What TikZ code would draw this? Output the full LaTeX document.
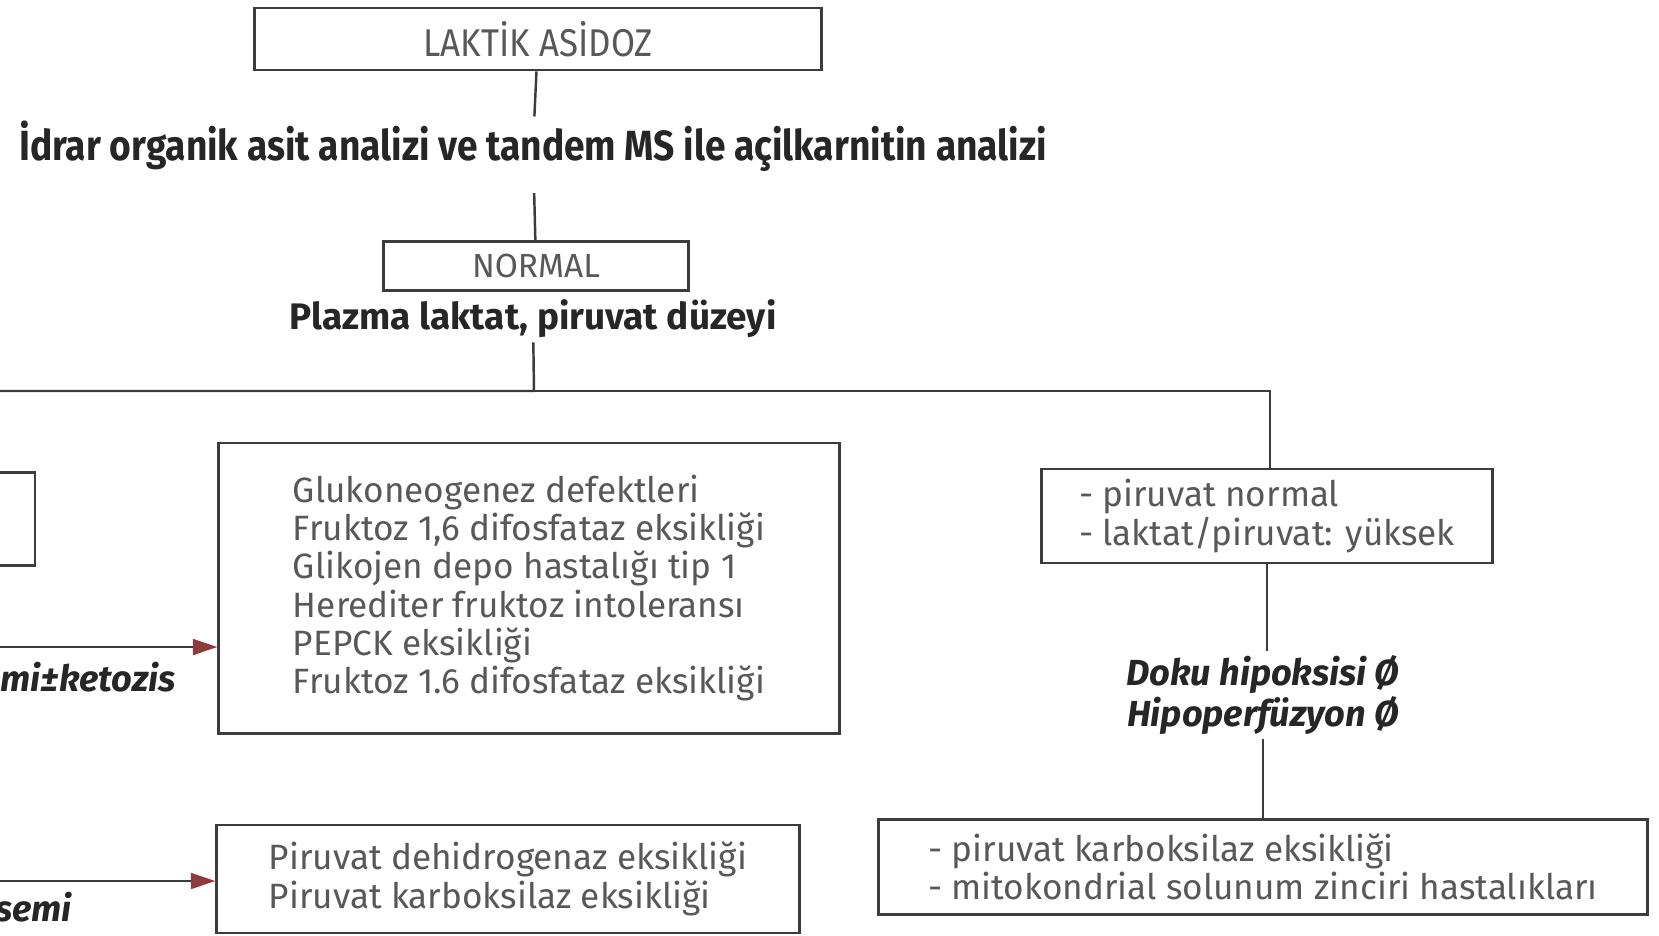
\documentclass[tikz,border=0pt]{standalone}
\usepackage{fontspec}
\setmainfont{Fira Sans}
\newfontfamily\narrowfont[FakeStretch=0.88]{Fira Sans}
\newfontfamily\titlefont[FakeStretch=0.9]{Fira Sans}
\usetikzlibrary{arrows.meta}
\definecolor{linegray}{HTML}{3C3C3C}
\definecolor{textgray}{HTML}{585858}
\definecolor{tipred}{HTML}{8E3B3F}

\begin{document}
\begin{tikzpicture}[x=0.01cm, y=-0.01cm,
    Box/.style={draw=linegray, line width=0.8pt, rectangle, inner sep=0, text=textgray,
                font=\fontsize{10}{10.9}\selectfont, align=left},
    step_text/.style={text=black!85, font=\bfseries\fontsize{10.5}{12}\selectfont, inner sep=1pt},
    note_text/.style={text=black!85, font=\bfseries\itshape\fontsize{10.3}{11.7}\selectfont,
                      align=center, inner sep=1pt},
    line/.style={draw=linegray, line width=0.7pt},
    arrow/.style={line, -{Triangle[length=7pt, width=4.5pt, color=tipred]}}
    ]
    \useasboundingbox (0,0) rectangle (1659,935);

    % main trunk
    \node[Box, minimum width=5.66cm, minimum height=0.62cm,
          font=\titlefont\fontsize{11}{12}\selectfont] (Bc0) at (538,39) {LAKTİK ASİDOZ};
    \node[step_text, font=\narrowfont\bfseries\fontsize{12}{13}\selectfont] (St0) at (533,146)
        {İdrar organik asit analizi ve tandem MS ile açilkarnitin analizi};
    \node[Box, minimum width=3.05cm, minimum height=0.49cm,
          font=\fontsize{9.5}{11}\selectfont] (Bc1) at (536,266) {NORMAL};
    \node[step_text] (St1) at (533,319) {Plazma laktat, piruvat düzeyi};

    \coordinate (J0) at (534,391);
    \coordinate (J1) at (1270,391);
    \coordinate (Jl) at (-20,391);

    % branches
    \node[Box, minimum width=1.5cm, minimum height=0.93cm] (Bc2) at (-40,519) {};
    \node[Box, minimum width=6.2cm, minimum height=2.9cm] (Bc3) at (529,588)
        {Glukoneogenez defektleri\\
         Fruktoz 1,6 difosfataz eksikliği\\
         Glikojen depo hastalığı tip 1\\
         Herediter fruktoz intoleransı\\
         PEPCK eksikliği\\
         Fruktoz 1.6 difosfataz eksikliği};
    \node[Box, minimum width=5.82cm, minimum height=1.08cm] (Bc6) at (508,879)
        {Piruvat dehidrogenaz eksikliği\\
         Piruvat karboksilaz eksikliği};
    \node[Box, minimum width=4.51cm, minimum height=0.94cm] (Bc4) at (1267,516)
        {- piruvat normal\\
         - laktat/piruvat: yüksek};
    \node[note_text] (Nt0) at (1263,695) {Doku hipoksisi Ø\\Hipoperfüzyon Ø};
    \node[Box, minimum width=7.68cm, minimum height=0.95cm] (Bc5) at (1263,867)
        {- piruvat karboksilaz eksikliği\\
         - mitokondrial solunum zinciri hastalıkları};

    \coordinate (A0) at (-20,647);
    \coordinate (A1) at (-20,881);
    \node[note_text, anchor=east] (Nt1) at (180,677) {mi±ketozis};
    \node[note_text, anchor=east] (Nt2) at (76,907) {semi};

    \draw[line] (Bc0) -- (St0);
    \draw[line, shorten <=5pt] (St0) -- (Bc1);
    \draw[line] (St1) -- (J0) -- (Jl);
    \draw[line] (J0) -- (J1) -- (J1 |- Bc4.north);
    \draw[line] (Bc4) -- (Bc4 |- Nt0.north);
    \draw[line] (Nt0) -- (Bc5);
    \draw[arrow] (A0) -- (A0 -| Bc3.west);
    \draw[arrow] (A1) -- (A1 -| Bc6.west);
\end{tikzpicture}
\end{document}
